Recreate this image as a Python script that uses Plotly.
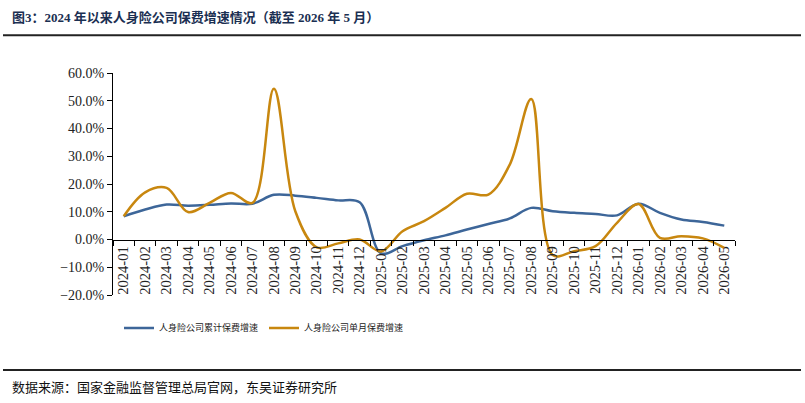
import plotly.graph_objects as go

months = [
    "2024-01", "2024-02", "2024-03", "2024-04", "2024-05", "2024-06",
    "2024-07", "2024-08", "2024-09", "2024-10", "2024-11", "2024-12",
    "2025-01", "2025-02", "2025-03", "2025-04", "2025-05", "2025-06",
    "2025-07", "2025-08", "2025-09", "2025-10", "2025-11", "2025-12",
    "2026-01", "2026-02", "2026-03", "2026-04", "2026-05",
]
# 人身险公司累计保费增速 (%)
cumulative = [
    8.4, 10.8, 12.6, 12.2, 12.5, 13.0, 12.9, 16.1, 15.8, 15.0, 14.1, 13.4,
    -5.0, -2.4, -0.3, 1.5, 3.6, 5.6, 7.6, 11.4, 10.2, 9.6, 9.2, 8.7,
    12.9, 9.6, 7.2, 6.3, 5.0,
]
# 人身险公司单月保费增速 (%)
monthly = [
    8.4, 17.0, 18.6, 9.9, 13.2, 16.8, 13.2, 54.3, 10.2, -2.8, -1.4, 0.0,
    -4.3, 3.0, 6.6, 11.4, 16.5, 16.2, 27.0, 50.6, -5.6, -4.2, -2.4, 6.0,
    12.8, 0.6, 1.2, 0.4, -3.0,
]
y_min, y_max = -20, 60

# plot area in pixels, used to place decorations in paper coords
W, H = 805, 403
left, right, top, bottom = 113, 735, 72.7, 295


def px_x(p):
    return (p - left) / (right - left)


def px_y(p):
    return (bottom - p) / (bottom - top)


fig = go.Figure()
fig.add_trace(go.Scatter(
    x=months, y=cumulative, mode="lines", name="人身险公司累计保费增速",
    line=dict(color="#3D6699", width=2.5, shape="spline", smoothing=1),
))
fig.add_trace(go.Scatter(
    x=months, y=monthly, mode="lines", name="人身险公司单月保费增速",
    line=dict(color="#C8870F", width=2.5, shape="spline", smoothing=1),
))

serif = "Liberation Serif, Times New Roman, Noto Sans CJK SC"

fig.update_layout(
    width=W, height=H,
    margin=dict(l=left, r=W - right, t=top, b=H - bottom, autoexpand=False),
    paper_bgcolor="white", plot_bgcolor="white",
    font=dict(family=serif, color="#222222"),
    showlegend=True,
    legend=dict(
        orientation="h", x=px_x(119), y=px_y(328), xanchor="left", yanchor="middle",
        font=dict(size=9, family="Noto Sans CJK SC", color="#222222"),
        entrywidth=100, entrywidthmode="pixels", bgcolor="rgba(0,0,0,0)",
    ),
    xaxis=dict(
        type="category", tickson="boundaries", ticks="outside", ticklen=5,
        tickcolor="black", showline=True, linecolor="black", linewidth=1,
        showgrid=False, zeroline=False, tickangle=-90,
        tickfont=dict(size=14.5, family=serif, color="#222222"),
        anchor="free", position=(0 - y_min) / (y_max - y_min),
        range=[-0.5, len(months) - 0.5],
    ),
    yaxis=dict(
        range=[y_min, y_max], dtick=10, tickformat=".1f", ticksuffix="%",
        ticks="outside", ticklen=5, tickcolor="black", showline=True,
        linecolor="black", linewidth=1, showgrid=False, zeroline=False,
        tickfont=dict(size=14, family=serif, color="#222222"),
    ),
)

# title and source
fig.add_annotation(
    text="<b>图3：2024 年以来人身险公司保费增速情况（截至 2026 年 5 月）</b>",
    xref="paper", yref="paper", x=px_x(10), y=px_y(17),
    xanchor="left", yanchor="middle", showarrow=False,
    font=dict(size=13, family=serif, color="#1B2F52"),
)
fig.add_annotation(
    text="数据来源：国家金融监督管理总局官网，东吴证券研究所",
    xref="paper", yref="paper", x=px_x(10), y=px_y(387),
    xanchor="left", yanchor="middle", showarrow=False,
    font=dict(size=13, family="Noto Sans CJK SC", color="#111111"),
)
for ly in (35, 370):
    fig.add_shape(
        type="line", xref="paper", yref="paper",
        x0=px_x(3), x1=px_x(801), y0=px_y(ly), y1=px_y(ly),
        line=dict(color="#222222", width=2),
    )

# drop the browser's default body margin so the figure sits at the top-left corner
fig.write_html(
    "out.html",
    config={"displayModeBar": False},
    post_script="document.body.style.margin='0';",
)
